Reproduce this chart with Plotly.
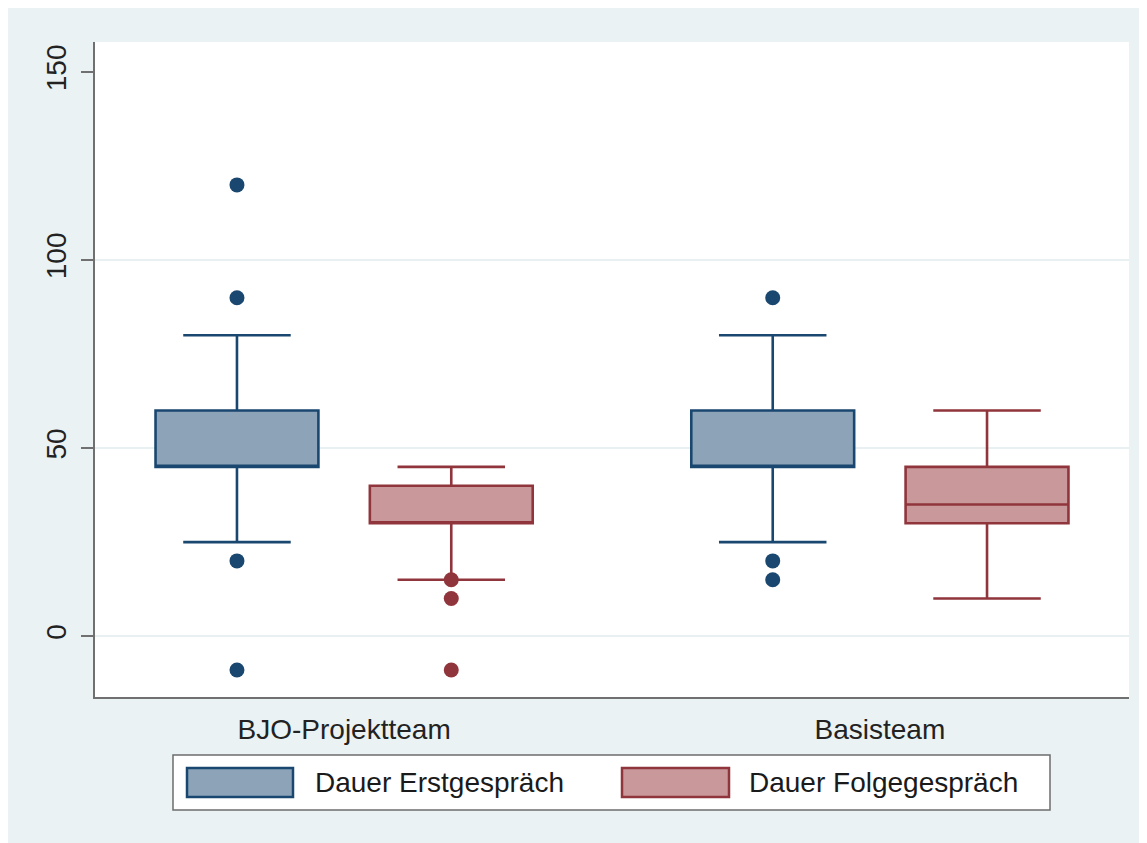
import plotly.graph_objects as go

# ---- data ----
groups = ["BJO-Projektteam", "Basisteam"]
series_names = ["Dauer Erstgespräch", "Dauer Folgegespräch"]

erst_q1 = [45, 45]
erst_median = [45, 45]
erst_q3 = [60, 60]
erst_lower = [25, 25]
erst_upper = [80, 80]
erst_outliers = [[120, 90, 20, -9], [90, 20, 15]]

folge_q1 = [30, 30]
folge_median = [30, 35]
folge_q3 = [40, 45]
folge_lower = [15, 10]
folge_upper = [45, 60]
folge_outliers = [[15, 10, -9], []]

y_ticks = [0, 50, 100, 150]
grid_vals = [0, 50, 100]

# ---- styles ----
erst_line = "#1A476F"
erst_fill = "#8DA3B8"
folge_line = "#90353B"
folge_fill = "#C8989B"
bg = "#EAF2F3"
font_family = "Liberation Sans, Arial, sans-serif"
offset = 0.2
box_w = 0.304

fig = go.Figure()

series = [
    (series_names[0], erst_q1, erst_median, erst_q3, erst_lower, erst_upper, erst_outliers, erst_line, erst_fill, -offset),
    (series_names[1], folge_q1, folge_median, folge_q3, folge_lower, folge_upper, folge_outliers, folge_line, folge_fill, offset),
]

for name, q1, med, q3, lo, hi, outs, lc, fc, off in series:
    pos = [i + 1 + off for i in range(len(groups))]
    fig.add_trace(go.Box(
        name=name, x=pos, q1=q1, median=med, q3=q3,
        lowerfence=lo, upperfence=hi,
        width=box_w, whiskerwidth=0.66, boxpoints=False,
        line=dict(color=lc, width=2.6), fillcolor=fc,
        showlegend=False, hoverinfo="skip",
    ))
    ox, oy = [], []
    for p, vals in zip(pos, outs):
        for v in vals:
            ox.append(p)
            oy.append(v)
    fig.add_trace(go.Scatter(
        x=ox, y=oy, mode="markers", name=name + " outliers",
        marker=dict(color=lc, size=15, line=dict(width=0)),
        showlegend=False, hoverinfo="skip",
    ))

shapes = []
# grid lines
for g in grid_vals:
    shapes.append(dict(type="line", xref="paper", yref="y", x0=0, x1=1, y0=g, y1=g,
                       line=dict(color="#E8F0F2", width=2), layer="below"))
# custom legend (page-pixel positions converted to paper coords)
L = lambda px: (px - 95) / 1034
T = lambda py: (697 - py) / 655
shapes.append(dict(type="rect", xref="paper", yref="paper", x0=L(173), x1=L(1050),
                   y0=T(810), y1=T(755), fillcolor="white",
                   line=dict(color="#6E6E6E", width=1.5), layer="above"))
shapes.append(dict(type="rect", xref="paper", yref="paper", x0=L(187), x1=L(293),
                   y0=T(797), y1=T(768), fillcolor=erst_fill,
                   line=dict(color=erst_line, width=2.5), layer="above"))
shapes.append(dict(type="rect", xref="paper", yref="paper", x0=L(622), x1=L(729),
                   y0=T(797), y1=T(768), fillcolor=folge_fill,
                   line=dict(color=folge_line, width=2.5), layer="above"))

annotations = [
    dict(text=series_names[0], xref="paper", yref="paper", x=L(313), y=T(782),
         xanchor="left", yanchor="middle", showarrow=False,
         font=dict(size=28, color="#1a1a1a", family=font_family)),
    dict(text=series_names[1], xref="paper", yref="paper", x=L(747), y=T(782),
         xanchor="left", yanchor="middle", showarrow=False,
         font=dict(size=28, color="#1a1a1a", family=font_family)),
]

fig.update_layout(
    width=1139, height=835,
    margin=dict(l=87, r=18, t=34, b=146),
    paper_bgcolor=bg, plot_bgcolor="white",
    font=dict(family=font_family, size=28, color="#222222"),
    shapes=shapes, annotations=annotations,
    showlegend=False,
    xaxis=dict(range=[0.535, 2.465], tickvals=[1, 2], ticktext=groups,
               showgrid=False, zeroline=False, showline=True,
               linecolor="#707070", linewidth=2, ticks="",
               ticklabelstandoff=6,
               tickfont=dict(size=28, color="#222222")),
    yaxis=dict(range=[-16.2, 158], tickvals=y_ticks, showgrid=False, zeroline=False,
               showline=True, linecolor="#707070", linewidth=2,
               ticks="outside", ticklen=12, tickwidth=2, tickcolor="#707070",
               tickangle=-90, ticklabelstandoff=4,
               tickfont=dict(size=28, color="#222222")),
)

fig.write_html("out.html")
